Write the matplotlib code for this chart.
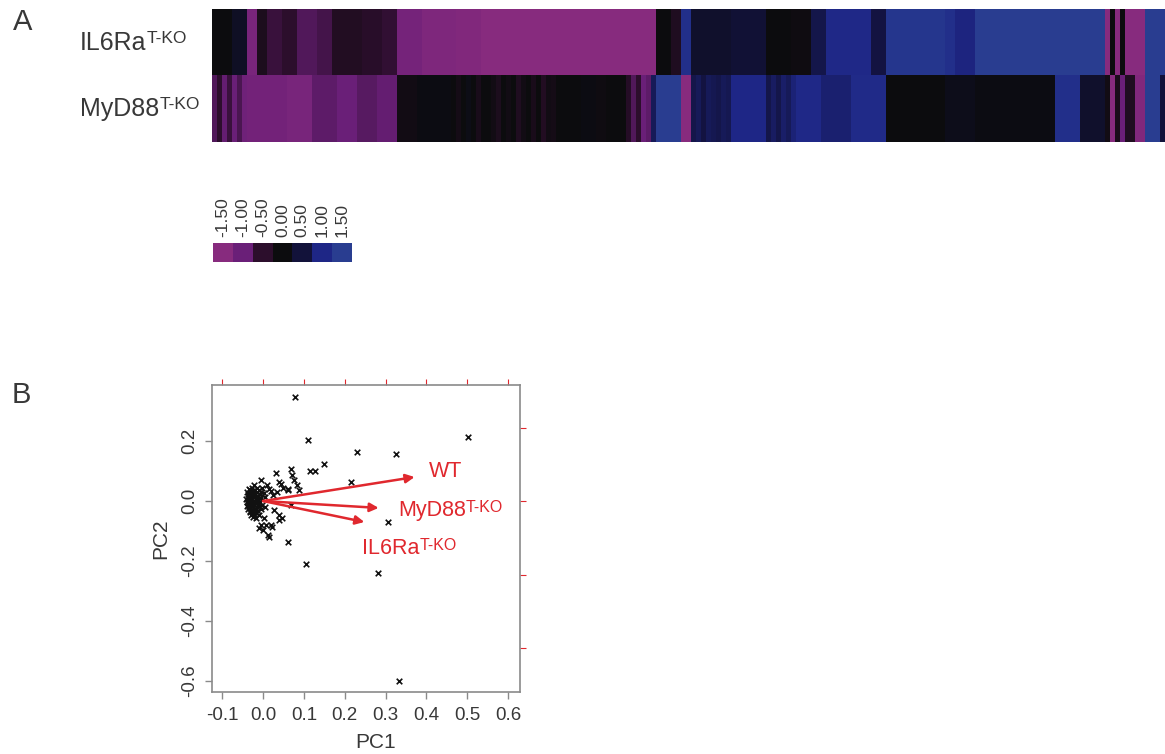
import numpy as np
import matplotlib
matplotlib.use("Agg")
import matplotlib.pyplot as plt
from matplotlib.colors import LinearSegmentedColormap

plt.rcParams['font.family'] = ['Liberation Sans', 'DejaVu Sans']

# ---- heatmap data (run-length: value, number of columns) ----
row1_vals = [0.0, 0.25, -1.25, -0.25, -0.6, -0.5, -0.8, -0.7, -0.35, -0.45, -0.55, -1.2, -1.35,
             -1.4, -1.5, 0.0, -0.3, 1.2, 0.35, 0.45, 0.0, -0.05, 0.6, 1.05, 0.55, 1.35, 1.2,
             0.95, 1.5, -1.5, 0.0, -1.5, 0.0, -1.5, 1.5]
row1_runs = [4, 3, 2, 2, 3, 3, 4, 3, 6, 4, 3, 5, 7,
             5, 35, 3, 2, 2, 8, 7, 5, 4, 3, 9, 3, 12, 2,
             4, 26, 1, 1, 1, 1, 4, 4]

row2_vals = [-0.8, -0.5, -0.95, -0.6, -1.0, -0.75, -1.1,
             -1.15, -1.25, -0.9, -1.0, -0.85, -0.95, -0.1, 0.05,
             0.0, -0.15, 0.0, 0.1, 0.0, -0.2, 0.0,
             0.0, -0.1, -0.25, 0.0, -0.1, 0.0, -0.3, -0.1, 0.0, -0.2, 0.0, -0.35, -0.1, -0.15,
             0.0, 0.05, -0.05, 0.0,
             -0.4, -0.8, -0.5, -1.0, -0.9, 0.7, 1.5, -1.5,
             0.6, 0.7, 0.55, 0.7, 0.65, 0.6, 0.7, 0.65,
             1.0, 0.6, 0.75, 0.6, 0.8, 0.7, 0.9, 1.05, 0.85, 1.1,
             0.0, 0.15, 0.05, 1.2, 0.35, -0.1, -1.5, -0.2, -1.0, -0.3, -1.4, 1.5, 0.5]
row2_runs = [1, 1, 1, 1, 1, 1, 1,
             8, 5, 5, 4, 4, 4, 4, 7,
             1, 1, 1, 1, 1, 1, 1,
             1, 1, 1, 1, 1, 1, 1, 1, 1, 1, 1, 1, 1, 1,
             5, 3, 2, 4,
             1, 1, 1, 1, 1, 1, 5, 2,
             1, 1, 1, 1, 1, 1, 1, 1,
             7, 1, 1, 1, 1, 1, 1, 5, 6, 7,
             12, 6, 16, 5, 5, 1, 1, 1, 1, 2, 2, 3, 1]

row_names = ["IL6Ra", "MyD88"]
cbar_levels = [-1.5, -1.0, -0.5, 0.0, 0.5, 1.0, 1.5]
cbar_colors = ["#872b7e", "#6a1f78", "#2c0e2c", "#0c0c0e", "#12123a", "#1e2686", "#293d90"]

# ---- PCA biplot data ----
pc1 = [-0.040, -0.038, -0.041, -0.039, -0.040, -0.037, -0.035, -0.033, -0.034, -0.032, -0.034,
       -0.033, -0.031, -0.029, -0.028, -0.027, -0.028, -0.026, -0.027, -0.025, -0.026, -0.024,
       -0.022, -0.021, -0.020, -0.022, -0.019, -0.021, -0.020, -0.018, -0.017, -0.015, -0.014,
       -0.016, -0.013, -0.015, -0.014, -0.012, -0.011, -0.009, -0.008, -0.010, -0.007, -0.009,
       -0.006, -0.036, -0.030, -0.024, -0.018, -0.029, -0.023, -0.017, -0.038, -0.031, -0.025,
       -0.012, -0.004, -0.003, -0.005, -0.002, 0.002, 0.005, 0.004,
       -0.037, -0.033, -0.029, -0.025, -0.021, -0.035, -0.031, -0.027, -0.023, -0.019,
       -0.006, 0.010, 0.031, 0.039, 0.045, 0.050, 0.061, 0.068, 0.072, 0.076, 0.082, 0.087,
       0.068, 0.060, 0.002, 0.007, -0.006, 0.019, 0.023, 0.047, 0.039, 0.011, 0.015, -0.010,
       0.000, 0.020, 0.015, 0.025, 0.035, 0.028, 0.040,
       0.079, 0.111, 0.502, 0.230, 0.326, 0.150, 0.115, 0.128, 0.216, 0.306, 0.281, 0.105,
       0.333, 0.060]
pc2 = [0.030, 0.018, 0.008, -0.004, -0.016, -0.027, 0.040, 0.026, 0.012, 0.000, -0.010,
       -0.022, -0.035, -0.045, 0.045, 0.033, 0.020, 0.006, -0.006, -0.018, -0.030, -0.052,
       0.052, 0.038, 0.024, 0.012, -0.002, -0.012, -0.026, -0.040, -0.058, 0.044, 0.030,
       0.016, 0.004, -0.008, -0.020, -0.034, -0.047, 0.036, 0.022, 0.010, -0.004, -0.016,
       -0.028, 0.005, 0.015, -0.004, 0.008, -0.015, 0.028, -0.030, -0.008, 0.008, 0.016,
       -0.012, 0.010, -0.012, 0.030, 0.045, 0.028, -0.020, 0.012,
       0.022, -0.032, 0.001, -0.040, 0.034, -0.020, 0.036, -0.011, -0.044, 0.020,
       0.070, 0.053, 0.092, 0.064, 0.058, 0.045, 0.039, 0.106, 0.087, 0.070, 0.053, 0.037,
       -0.013, -0.136, -0.057, -0.080, -0.080, -0.080, -0.086, -0.058, -0.063, -0.113, -0.119,
       -0.091, -0.095, 0.035, 0.040, 0.020, 0.030, -0.030, -0.045,
       0.348, 0.202, 0.213, 0.163, 0.158, 0.124, 0.100, 0.100, 0.064, -0.069, -0.239, -0.211,
       -0.600, 0.036]

load_names = ["WT", "MyD88", "IL6Ra"]
load_pc1 = [0.371, 0.283, 0.248]
load_pc2 = [0.080, -0.023, -0.070]
label_pc1 = [0.447, 0.330, 0.243]
label_pc2 = [0.097, -0.030, -0.157]

RED = "#e0282e"
GREY = "#8a8a8a"
TXT = "#383838"

cmap = LinearSegmentedColormap.from_list(
    "hm", [((v + 1.5) / 3.0, c) for v, c in zip(cbar_levels, cbar_colors)])

W, H = 1165, 754
fig = plt.figure(figsize=(W / 100, H / 100), dpi=100)

def fr(x0, y0, x1, y1):
    # pixel box -> figure fraction rect
    return [x0 / W, 1 - y1 / H, (x1 - x0) / W, (y1 - y0) / H]

def sup_label(ax, x, y, base, sup, size, ssize, color, coords=None):
    t = ax.text(x, y, base, fontsize=size, color=color, ha="left", va="center",
                transform=coords if coords is not None else ax.transData)
    ax.annotate(sup, xy=(1.0, 0.98), xycoords=t, fontsize=ssize, color=color,
                ha="left", va="top", annotation_clip=False)
    return t

# ---- panel A: heatmap ----
ax_hm = fig.add_axes(fr(212, 9, 1165, 142))
mat = np.vstack([np.repeat(row1_vals, row1_runs), np.repeat(row2_vals, row2_runs)])
ax_hm.imshow(mat, aspect="auto", cmap=cmap, vmin=-1.5, vmax=1.5, interpolation="nearest")
ax_hm.axis("off")

fig.text(13 / W, 1 - 22 / H, "A", fontsize=21, color=TXT, va="center")
for i, nm in enumerate(row_names):
    sup_label(ax_hm, 80 / W, 1 - (43 + 66 * i) / H, nm, "T-KO", 18, 12.5, TXT,
              coords=fig.transFigure)

ax_cb = fig.add_axes(fr(213, 243, 352, 262))
ax_cb.imshow([cbar_levels], aspect="auto", cmap=cmap, vmin=-1.5, vmax=1.5,
             interpolation="nearest")
ax_cb.set_yticks([])
ax_cb.set_xticks(range(len(cbar_levels)))
ax_cb.set_xticklabels([f"{v:.2f}" for v in cbar_levels], rotation=90, fontsize=12.5,
                      color=TXT)
ax_cb.xaxis.tick_top()
ax_cb.tick_params(axis="x", length=0, pad=4)
for s in ax_cb.spines.values():
    s.set_visible(False)

# ---- panel B: biplot ----
fig.text(12 / W, 1 - 395 / H, "B", fontsize=21, color=TXT, va="center")
ax = fig.add_axes(fr(212, 385, 520, 692))
ax.scatter(pc1, pc2, marker="x", s=16, color="#111111", linewidths=1.2, zorder=2)
for x, y in zip(load_pc1, load_pc2):
    ax.annotate("", xy=(x, y), xytext=(0, 0),
                arrowprops=dict(arrowstyle="-|>", color=RED, lw=1.8, mutation_scale=13,
                                shrinkA=0, shrinkB=0), zorder=3)
ax.text(label_pc1[0], label_pc2[0], load_names[0], fontsize=15.5, color=RED,
        ha="center", va="center")
sup_label(ax, label_pc1[1], label_pc2[1], load_names[1], "T-KO", 15.5, 11.5, RED)
sup_label(ax, label_pc1[2], label_pc2[2], load_names[2], "T-KO", 15.5, 11.5, RED)

ax.set_xlim(-0.125, 0.629)
ax.set_ylim(-0.637, 0.387)
ax.set_xticks([-0.1, 0.0, 0.1, 0.2, 0.3, 0.4, 0.5, 0.6])
ax.set_yticks([-0.6, -0.4, -0.2, 0.0, 0.2])
ax.set_xticklabels([f"{v:.1f}" for v in ax.get_xticks()], fontsize=13.5, color=TXT)
ax.set_yticklabels([f"{v:.1f}" for v in ax.get_yticks()], fontsize=13.5, color=TXT,
                   rotation=90, va="center")
ax.tick_params(axis="both", color=GREY, length=5, width=1)
ax.tick_params(axis="x", pad=6)
ax.tick_params(axis="y", pad=5)
for s in ax.spines.values():
    s.set_color(GREY)
    s.set_linewidth(1.2)
ax.set_xlabel("PC1", fontsize=15, color=TXT, labelpad=6, x=0.53)
ax.set_ylabel("PC2", fontsize=15, color=TXT, labelpad=8)

# loadings axes (red ticks, no labels)
top = ax.secondary_xaxis("top")
top.set_xticks([-0.1, 0.0, 0.1, 0.2, 0.3, 0.4, 0.5, 0.6])
top.tick_params(color=RED, length=4, width=0.8, labeltop=False)
top.spines["top"].set_visible(False)
right = ax.secondary_yaxis("right", functions=(lambda y: y * 0.816, lambda y: y / 0.816))
right.set_yticks([-0.4, -0.2, 0.0, 0.2])
right.tick_params(color=RED, length=4, width=0.8, labelright=False)
right.spines["right"].set_visible(False)

fig.savefig("out.png", dpi=100)
